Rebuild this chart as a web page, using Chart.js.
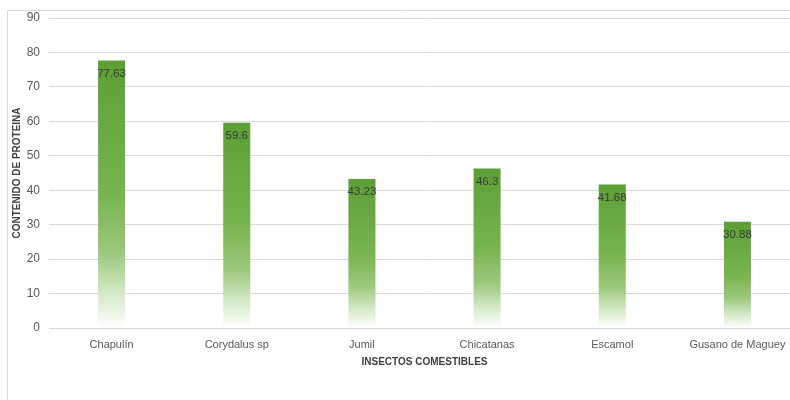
<!DOCTYPE html>
<html lang="es">
<head>
<meta charset="UTF-8">
<title>Contenido de proteína en insectos comestibles</title>
<script src="https://cdn.jsdelivr.net/npm/chart.js"></script>
<style>
    html, body { margin: 0; padding: 0; background: #fff; overflow: hidden; }
    #wrap { position: absolute; left: 0; top: 0; width: 800px; height: 400px; }
</style>
</head>
<body>
<div id="wrap"><canvas id="chart" width="800" height="400"></canvas></div>
<script>
    // values
    const insects = ['Chapulín', 'Corydalus sp', 'Jumil', 'Chicatanas', 'Escamol', 'Gusano de Maguey'];
    const protein = [77.63, 59.6, 43.23, 46.3, 41.68, 30.88];

    const yTitle = 'CONTENIDO DE PROTEINA';
    const xTitle = 'INSECTOS COMESTIBLES';

    const FONT = "'Liberation Sans', Arial, sans-serif";

    // bar fill: dark green at top, fading to white at the base
    function barFill(ctx) {
        const chart = ctx.chart;
        const area = chart.chartArea;
        if (!area || ctx.type !== 'data') return '#6aa842';
        const ys = chart.scales.y;
        const top = ys.getPixelForValue(ctx.raw);
        const base = ys.getPixelForValue(0);
        const g = chart.ctx.createLinearGradient(0, top, 0, base);
        g.addColorStop(0, '#5c9f35');
        g.addColorStop(0.5, '#78b44f');
        g.addColorStop(0.72, '#9cc97d');
        g.addColorStop(0.88, '#d7ebcb');
        g.addColorStop(1, '#ffffff');
        return g;
    }

    // value labels inside the top of each bar + outer frame lines
    const extras = {
        id: 'extras',
        beforeDraw(chart) {
            const c = chart.ctx;
            c.save();
            c.strokeStyle = '#d9d9d9';
            c.lineWidth = 1;
            c.beginPath();
            c.moveTo(7.5, 400);
            c.lineTo(7.5, 10.5);
            c.lineTo(800, 10.5);
            c.stroke();
            c.restore();
        },
        afterDatasetsDraw(chart) {
            const c = chart.ctx;
            const meta = chart.getDatasetMeta(0);
            c.save();
            c.font = '11.5px ' + FONT;
            c.fillStyle = '#3a3a3a';
            c.textAlign = 'center';
            c.textBaseline = 'middle';
            meta.data.forEach((bar, i) => {
                c.fillText(String(protein[i]), bar.x, bar.y + 13);
            });
            c.restore();
        }
    };

    new Chart(document.getElementById('chart'), {
        type: 'bar',
        data: {
            labels: insects,
            datasets: [{
                data: protein,
                backgroundColor: barFill,
                borderWidth: 0,
                categoryPercentage: 1,
                barPercentage: 0.216
            }]
        },
        options: {
            responsive: false,
            animation: false,
            devicePixelRatio: 1,
            layout: { padding: { top: 18, right: 0, left: 0, bottom: 0 } },
            plugins: { legend: { display: false }, tooltip: { enabled: false } },
            scales: {
                x: {
                    grid: { display: false, drawTicks: false },
                    border: { display: true, color: '#d9d9d9' },
                    ticks: { color: '#595959', font: { family: FONT, size: 11 }, padding: 10, maxRotation: 0, autoSkip: false },
                    title: { display: true, text: xTitle, color: '#404040', font: { family: FONT, size: 10, weight: 'bold' }, padding: { top: 0, bottom: 32 } },
                    afterFit(s) { s.height = 72; }
                },
                y: {
                    min: 0,
                    max: 90,
                    ticks: { stepSize: 10, color: '#595959', font: { family: FONT, size: 12 }, padding: 9 },
                    grid: { color: '#d9d9d9', drawTicks: false },
                    border: { display: false },
                    title: { display: true, text: yTitle, color: '#404040', font: { family: FONT, size: 10, weight: 'bold' }, padding: { top: 11, bottom: 0 } },
                    afterFit(s) { s.width = 49; }
                }
            }
        },
        plugins: [extras]
    });
</script>
</body>
</html>
